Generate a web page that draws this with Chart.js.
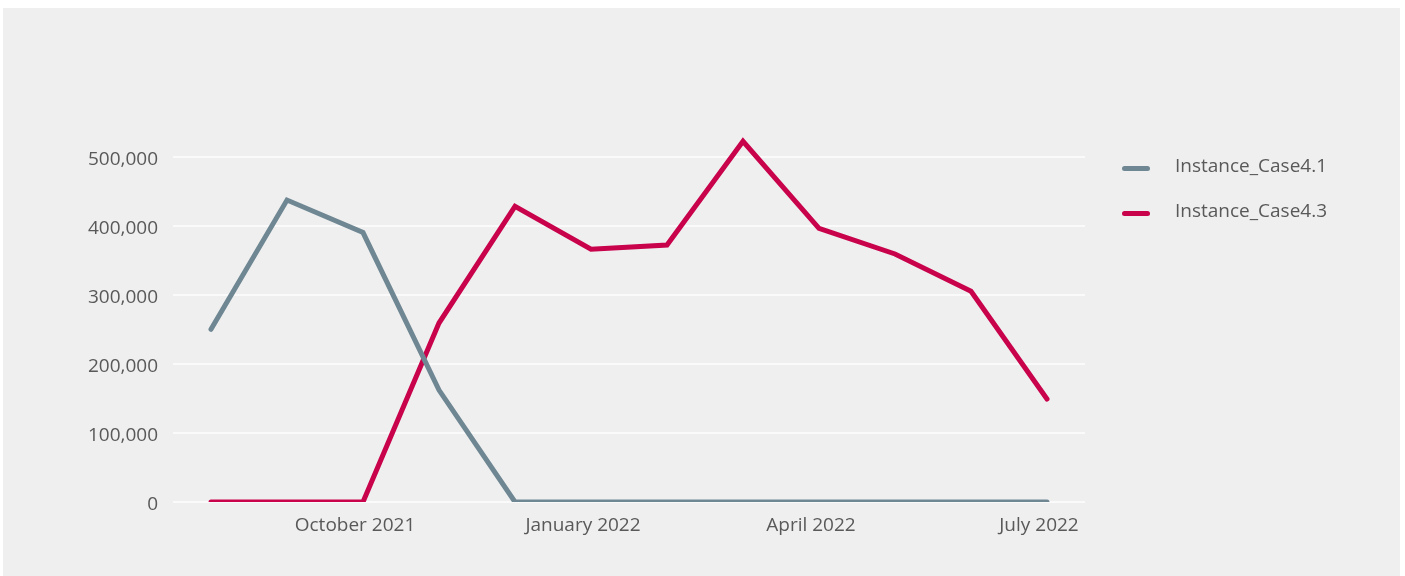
<!DOCTYPE html>
<html>
<head>
<meta charset="utf-8">
<script src="https://cdn.jsdelivr.net/npm/chart.js@4"></script>
<style>
	body { margin: 0; background: #ffffff; font-family: 'Open Sans', sans-serif; }
	#panel { position: absolute; left: 3px; top: 8px; width: 1397px; height: 568px; background: #efefef; }
	#legend { position: absolute; left: 1119px; top: 138px; }
	.item { display: flex; align-items: center; height: 45px; }
	.swatch { width: 28px; height: 5px; border-radius: 2.5px; margin-right: 25px; }
	.label { font-size: 19px; line-height: 1; color: #595959; position: relative; top: -3px; }
</style>
</head>
<body>
<div id="panel">
	<canvas id="caseChart" width="1397" height="568"></canvas>
	<div id="legend"></div>
</div>
<script>
const months = ['August 2021', 'September 2021', 'October 2021', 'November 2021', 'December 2021', 'January 2022',
	'February 2022', 'March 2022', 'April 2022', 'May 2022', 'June 2022', 'July 2022'];
const case41 = [250000, 437000, 390000, 162000, 0, 0, 0, 0, 0, 0, 0, 0];
const case43 = [0, 0, 0, 259000, 428000, 366000, 372000, 522000, 396000, 359000, 305000, 149000];
const shownMonths = ['October 2021', 'January 2022', 'April 2022', 'July 2022'];
const yTicks = [0, 100000, 200000, 300000, 400000, 500000];

document.addEventListener('DOMContentLoaded', () => {
	const textColor = '#595959';
	const font = { family: "'Open Sans', sans-serif", size: 19 };

	const data = {
		labels: months,
		datasets: [{
			label: 'Instance_Case4.1',
			data: case41,
			borderColor: '#6f8793',
			backgroundColor: '#6f8793'
		}, {
			label: 'Instance_Case4.3',
			data: case43,
			borderColor: '#c8024b',
			backgroundColor: '#c8024b'
		}]
	};

	const config = {
		type: 'line',
		data: data,
		options: {
			responsive: false,
			animation: false,
			layout: { padding: { top: 114, right: 315, bottom: 40, left: 0 } },
			elements: {
				line: { borderWidth: 5, borderCapStyle: 'round', tension: 0 },
				point: { radius: 0, hoverRadius: 0 }
			},
			plugins: {
				legend: { display: false },
				tooltip: { enabled: false }
			},
			scales: {
				x: {
					offset: true,
					grid: { display: false, drawTicks: false },
					border: { display: false },
					afterFit: (scale) => { scale.height = 34; },
					ticks: {
						autoSkip: false,
						maxRotation: 0,
						padding: 12,
						labelOffset: -8,
						color: textColor,
						font: font,
						callback: function (value) {
							const name = this.getLabelForValue(value);
							return shownMonths.includes(name) ? name : '';
						}
					}
				},
				y: {
					min: 0,
					max: 550000,
					grid: { color: '#fafafa', lineWidth: 2, drawTicks: false },
					border: { display: false },
					afterFit: (scale) => { scale.width = 170; },
					// only the round hundred-thousands get a tick and grid line
					afterBuildTicks: (scale) => {
						scale.ticks = yTicks.map(v => ({ value: v }));
					},
					ticks: {
						autoSkip: false,
						padding: 15,
						labelOffset: 3,
						color: textColor,
						font: font,
						callback: (value) => Number(value).toLocaleString('en-US')
					}
				}
			}
		}
	};

	const chart = new Chart(document.getElementById('caseChart'), config);

	// legend built from the datasets
	const legend = document.getElementById('legend');
	chart.data.datasets.forEach(ds => {
		const item = document.createElement('div');
		item.className = 'item';
		const swatch = document.createElement('span');
		swatch.className = 'swatch';
		swatch.style.background = ds.borderColor;
		const label = document.createElement('span');
		label.className = 'label';
		label.textContent = ds.label;
		item.appendChild(swatch);
		item.appendChild(label);
		legend.appendChild(item);
	});
});
</script>
</body>
</html>
